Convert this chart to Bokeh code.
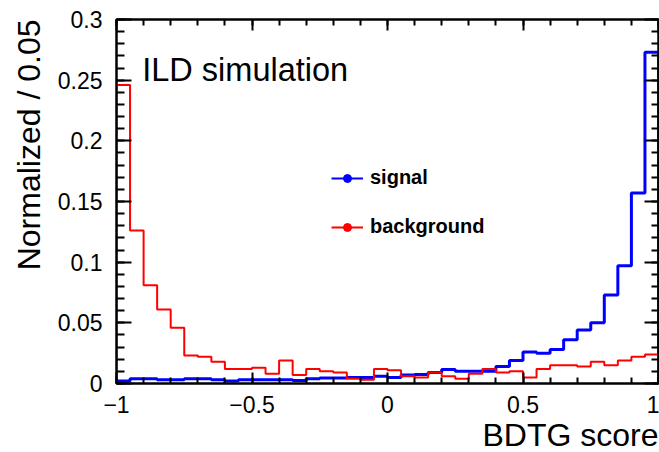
import numpy as np
from bokeh.plotting import figure
from bokeh.models import FixedTicker, LinearAxis, Range1d, Legend, LegendItem, Label, Title
from bokeh.embed import file_html
from bokeh.resources import INLINE

# ---- data ----
x_min, x_max, n_bins = -1.0, 1.0, 40
signal = [0.002, 0.004, 0.004, 0.003, 0.003, 0.004, 0.004, 0.003, 0.002, 0.003,
          0.003, 0.003, 0.003, 0.0025, 0.004, 0.0045, 0.0045, 0.005, 0.005, 0.006,
          0.005, 0.007, 0.0075, 0.009, 0.0115, 0.010, 0.010, 0.010, 0.014, 0.019,
          0.026, 0.025, 0.028, 0.036, 0.044, 0.050, 0.073, 0.097, 0.157, 0.273]
background = [0.246, 0.126, 0.081, 0.061, 0.046, 0.023, 0.022, 0.018, 0.012, 0.012,
              0.013, 0.008, 0.019, 0.007, 0.012, 0.010, 0.009, 0.004, 0.003, 0.012,
              0.011, 0.006, 0.005, 0.009, 0.006, 0.004, 0.008, 0.012, 0.009, 0.010,
              0.005, 0.012, 0.015, 0.015, 0.014, 0.018, 0.015, 0.019, 0.022, 0.024]
x_ticks = [-1, -0.5, 0, 0.5, 1]
x_tick_labels = ["\u22121", "\u22120.5", "0", "0.5", "1"]
y_ticks = [0, 0.05, 0.1, 0.15, 0.2, 0.25, 0.3]
y_tick_labels = ["0", "0.05", "0.1", "0.15", "0.2", "0.25", "0.3"]
series_names = ["signal", "background"]
series_colors = ["blue", "red"]

FONT = "Liberation Sans"

edges = np.linspace(x_min, x_max, n_bins + 1)


def step_outline(vals):
    xs = np.repeat(edges, 2)
    ys = np.concatenate([[0.0], np.repeat(np.asarray(vals, float), 2), [0.0]])
    return xs, ys


def key(v):
    return int(v) if float(v).is_integer() else float(v)


p = figure(width=659, height=452, x_range=Range1d(x_min, x_max), y_range=Range1d(0, 0.3),
           output_backend="svg", toolbar_location=None,
           min_border_left=115, min_border_right=1, min_border_top=19, min_border_bottom=69,
           background_fill_color="white", border_fill_color="white")
p.title.visible = False
p.grid.visible = False
p.outline_line_color = "black"
p.outline_line_width = 2

x_minor = [round(v, 3) for v in np.arange(-1.0, 1.0001, 0.1)]
y_minor = [round(v, 3) for v in np.arange(0.0, 0.3001, 0.01)]


def style(axis, ticks, minor, labels, maj_len, min_len, show_labels, standoff):
    axis.ticker = FixedTicker(ticks=ticks, minor_ticks=minor)
    axis.axis_line_width = 2
    axis.major_tick_line_width = 2
    axis.minor_tick_line_width = 2
    axis.major_tick_in = maj_len
    axis.major_tick_out = 0
    axis.minor_tick_in = min_len
    axis.minor_tick_out = 0
    axis.major_label_text_font = FONT
    axis.major_label_text_color = "black"
    if show_labels:
        axis.major_label_overrides = {key(t): l for t, l in zip(ticks, labels)}
        axis.major_label_text_font_size = "23px"
        axis.major_label_standoff = standoff
    else:
        axis.major_label_text_font_size = "0px"
        axis.major_label_standoff = 0
        axis.major_label_text_alpha = 0


style(p.xaxis[0], x_ticks, x_minor, x_tick_labels, 11, 6, True, 12)
style(p.yaxis[0], y_ticks, y_minor, y_tick_labels, 15, 8, True, 14)
top = LinearAxis()
style(top, x_ticks, x_minor, x_tick_labels, 11, 6, False, 0)
right = LinearAxis()
style(right, y_ticks, y_minor, y_tick_labels, 14, 7, False, 0)
p.add_layout(top, "above")
p.add_layout(right, "right")

# histograms
for vals, col, w in [(signal, series_colors[0], 3), (background, series_colors[1], 2)]:
    xs, ys = step_outline(vals)
    p.line(xs, ys, line_color=col, line_width=w)

# legend proxies (not drawn in the frame)
items = []
for name, col in zip(series_names, series_colors):
    l = p.line([np.nan], [np.nan], line_color=col, line_width=2)
    c = p.scatter([np.nan], [np.nan], marker="circle", size=4, fill_color=col, line_color=col)
    items.append(LegendItem(label=name, renderers=[l, c]))

legend = Legend(items=items, location=(215, 145), orientation="vertical",
                padding=0, margin=0, spacing=26, glyph_width=32, glyph_height=20,
                label_height=20, label_standoff=7, label_text_font=FONT,
                label_text_font_size="20px", label_text_font_style="bold",
                label_text_color="black",
                border_line_alpha=0, background_fill_alpha=0)
p.add_layout(legend)

p.add_layout(Label(x=-0.905, y=0.258, text="ILD simulation", text_font=FONT,
                   text_font_size="32.5px", text_baseline="middle", text_color="black"))

p.add_layout(Title(text="BDTG score", align="right", text_font=FONT, text_font_size="32px",
                   text_font_style="normal", text_color="black", standoff=-2), "below")
p.add_layout(Title(text="Normalized / 0.05", align="right", text_font=FONT, text_font_size="32px",
                   text_font_style="normal", text_color="black", standoff=16), "left")

open("out.html", "w").write(file_html(p, INLINE))
